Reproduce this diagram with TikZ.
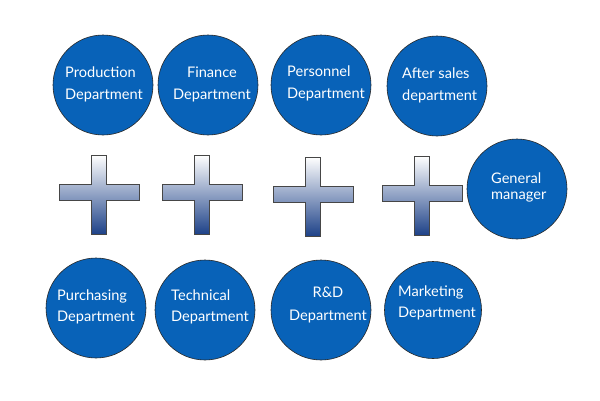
\documentclass[tikz,border=0pt]{standalone}
\usepackage{fontspec}
\setmainfont{Lato}
\definecolor{circblue}{RGB}{8,98,184}
\definecolor{circedge}{RGB}{40,40,40}
\definecolor{plusmid}{RGB}{172,190,218}
\definecolor{plusbot}{RGB}{30,66,136}
\definecolor{plusedge}{RGB}{70,70,70}
\tikzset{
  dept/.style={circle, fill=circblue, draw=circedge, line width=0.6pt, minimum size=100pt, inner sep=0pt},
  deptxt/.style={text=white, font=\fontsize{14.6}{22}\selectfont, align=left, inner sep=0pt},
  plusmark/.pic={
    \shade[top color=white, middle color=plusmid, bottom color=plusbot, draw=plusedge, line width=0.7pt]
      (-7.5,-37) -- (7.5,-37) -- (7.5,-8) -- (40,-8) -- (40,8) -- (7.5,8) -- (7.5,42)
      -- (-7.5,42) -- (-7.5,8) -- (-40,8) -- (-40,-8) -- (-7.5,-8) -- cycle;
  }
}
\begin{document}
\begin{tikzpicture}[x=1pt,y=-1pt]
\useasboundingbox (0,0) rectangle (600,400);
% top row
\node[dept] (c1) at (103,85) {};
\node[dept] (c2) at (208,85) {};
\node[dept] (c3) at (321,85) {};
\node[dept] (c4) at (437,86) {};
% general manager
\node[dept] (c5) at (517,189) {};
% bottom row
\node[dept] (c6) at (96,308) {};
\node[dept] (c7) at (205,310) {};
\node[dept] (c8) at (321,310) {};
\node[dept, minimum size=97pt] (c9) at (433,310) {};
% texts
\node[deptxt, anchor=west] (t1) at (65,84) {Production\\Department};
\node[deptxt, align=center] (t2) at (212,84) {Finance\\Department};
\node[deptxt, anchor=west] (t3) at (287,83) {Personnel\\Department};
\node[deptxt, anchor=west] (t4) at (402,85) {After sales\\department};
\node[deptxt, anchor=west, font=\fontsize{14.6}{16}\selectfont] (t5) at (491,187) {General\\manager};
\node[deptxt, anchor=west, font=\fontsize{14.6}{21}\selectfont] (t6) at (57,307) {Purchasing\\Department};
\node[deptxt, anchor=west, font=\fontsize{14.6}{21}\selectfont] (t7) at (171,307) {Technical\\Department};
\node[deptxt, align=center, font=\fontsize{14.6}{23}\selectfont] (t8) at (328,305) {R\&D\\Department};
\node[deptxt, anchor=west, font=\fontsize{14.6}{21}\selectfont] (t9) at (398,303) {Marketing\\Department};
% plus signs
\pic at (99,192) {plusmark};
\pic at (202,192) {plusmark};
\pic at (313,194) {plusmark};
\pic at (422,193) {plusmark};
\end{tikzpicture}
\end{document}
